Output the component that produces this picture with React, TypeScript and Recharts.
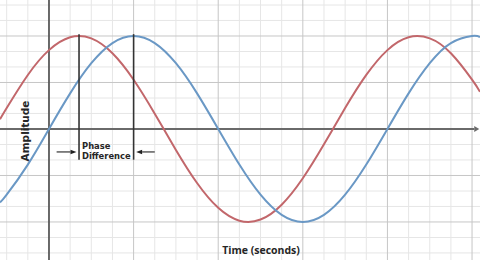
import React from "react";
import { LineChart, Line, XAxis, YAxis, ReferenceLine } from "recharts";

// time samples (seconds), first and last at the visible edges
const times = [-0.579, -0.5, -0.25, 0, 0.25, 0.5, 0.75, 1, 1.25, 1.5, 1.75, 2, 2.25, 2.5, 2.75, 3, 3.25, 3.5, 3.75, 4, 4.25, 4.5, 4.75, 5, 5.094];
// blue wave (lagging)
const blueValues = [-0.789, -0.707, -0.383, 0, 0.383, 0.707, 0.924, 1, 0.924, 0.707, 0.383, 0, -0.383, -0.707, -0.924, -1, -0.924, -0.707, -0.383, 0, 0.383, 0.707, 0.924, 1, 0.989];
// red wave (leading)
const redValues = [0.104, 0.225, 0.581, 0.848, 0.986, 0.974, 0.814, 0.53, 0.165, -0.225, -0.581, -0.848, -0.986, -0.974, -0.814, -0.53, -0.165, 0.225, 0.581, 0.848, 0.986, 0.974, 0.814, 0.53, 0.399];

// grid ticks
const xMajorTicks = [1, 2, 3, 4, 5];
const xMinorTicks = [-0.5, -0.25, 0.25, 0.5, 0.75, 1.25, 1.5, 1.75, 2.25, 2.5, 2.75, 3.25, 3.5, 3.75, 4.25, 4.5, 4.75];
const yMajorTicks = [1, 0.5, -0.5, -1];
const yMinorTicks = [1.333, 1.167, 0.833, 0.667, 0.333, 0.167, -0.167, -0.333, -0.667, -0.833, -1.167, -1.333];

// texts
const xTitle = "Time (seconds)";
const yTitle = "Amplitude";
const phaseLines = ["Phase", "Difference"];

// annotation values
const redPeakTime = 0.355;
const bluePeakTime = 1;
const markerTop = 1.02;
const markerBottom = -0.33;
const arrowLevel = -0.247;
const leftArrowStart = 0.09;
const rightArrowStart = 1.25;
const xDomain: [number, number] = [-0.579, 5.094];
const yDomain: [number, number] = [-1.409, 1.387];
const axisEnd = 5.085;

const data = times.map((t, i) => ({ t, blue: blueValues[i], red: redValues[i] }));

const ArrowShape = (props: any) => {
  const { x1, y1, x2, y2, stroke, strokeWidth, head = 6, half = 2.5 } = props;
  const ang = Math.atan2(y2 - y1, x2 - x1);
  const bx = x2 - head * Math.cos(ang);
  const by = y2 - head * Math.sin(ang);
  const px = -Math.sin(ang) * half;
  const py = Math.cos(ang) * half;
  return (
    <g>
      <line x1={x1} y1={y1} x2={bx} y2={by} stroke={stroke} strokeWidth={strokeWidth} />
      <polygon points={`${x2},${y2} ${bx + px},${by + py} ${bx - px},${by - py}`} fill={stroke} />
    </g>
  );
};

const openSans = "'Open Sans', 'DejaVu Sans', sans-serif";
const dejavu = "'DejaVu Sans', 'Open Sans', sans-serif";

const Annotations = () => (
  <g>
    <text x={82} y={148.8} fontFamily={dejavu} fontWeight={700} fontSize={8.4} fill="#262626">
      {phaseLines[0]}
    </text>
    <text x={82} y={158.7} fontFamily={dejavu} fontWeight={700} fontSize={8.4} fill="#262626">
      {phaseLines[1]}
    </text>
    <text x={261} y={254} textAnchor="middle" fontFamily={openSans} fontWeight={700} fontSize={10.5} fill="#262626">
      {xTitle}
    </text>
    <text
      x={29.3}
      y={131}
      textAnchor="middle"
      transform="rotate(-90 29.3 131)"
      fontFamily={dejavu}
      fontWeight={700}
      fontSize={10.5}
      fill="#262626"
    >
      {yTitle}
    </text>
  </g>
);

export default function App() {
  return (
    <div style={{ position: "absolute", left: 0, top: 0, width: 480, height: 260, background: "#fff" }}>
      <LineChart width={480} height={260} data={data} margin={{ top: 0, right: 0, bottom: 0, left: 0 }}>
        <XAxis type="number" dataKey="t" domain={xDomain} allowDataOverflow hide />
        <YAxis type="number" domain={yDomain} allowDataOverflow hide />
        {xMinorTicks.map((v) => (
          <ReferenceLine key={"xm" + v} x={v} stroke="#e6e6e6" strokeWidth={1} />
        ))}
        {yMinorTicks.map((v) => (
          <ReferenceLine key={"ym" + v} y={v} stroke="#e6e6e6" strokeWidth={1} />
        ))}
        {xMajorTicks.map((v) => (
          <ReferenceLine key={"xM" + v} x={v} stroke="#c6c6c6" strokeWidth={1} />
        ))}
        {yMajorTicks.map((v) => (
          <ReferenceLine key={"yM" + v} y={v} stroke="#c6c6c6" strokeWidth={1} />
        ))}
        <ReferenceLine x={0} stroke="#5a5a5a" strokeWidth={1.8} />
        <ReferenceLine
          segment={[{ x: xDomain[0], y: 0 }, { x: axisEnd, y: 0 }]}
          stroke="#6a6a6a"
          strokeWidth={1.8}
          ifOverflow="visible"
          shape={(p: any) => <ArrowShape {...p} head={5} half={3} />}
        />
        <Line type="natural" dataKey="red" stroke="#c2676b" strokeWidth={2} dot={false} activeDot={false} isAnimationActive={false} />
        <Line type="natural" dataKey="blue" stroke="#6a98c5" strokeWidth={2} dot={false} activeDot={false} isAnimationActive={false} />
        <ReferenceLine
          segment={[{ x: redPeakTime, y: markerTop }, { x: redPeakTime, y: markerBottom }]}
          stroke="#333"
          strokeWidth={1.6}
        />
        <ReferenceLine
          segment={[{ x: bluePeakTime, y: markerTop }, { x: bluePeakTime, y: markerBottom }]}
          stroke="#333"
          strokeWidth={1.6}
        />
        <ReferenceLine
          segment={[{ x: leftArrowStart, y: arrowLevel }, { x: redPeakTime - 0.03, y: arrowLevel }]}
          stroke="#222"
          strokeWidth={1.1}
          shape={(p: any) => <ArrowShape {...p} head={6} half={2.3} />}
        />
        <ReferenceLine
          segment={[{ x: rightArrowStart, y: arrowLevel }, { x: bluePeakTime + 0.03, y: arrowLevel }]}
          stroke="#222"
          strokeWidth={1.1}
          shape={(p: any) => <ArrowShape {...p} head={6} half={2.3} />}
          label={() => <Annotations />}
        />
      </LineChart>
    </div>
  );
}
